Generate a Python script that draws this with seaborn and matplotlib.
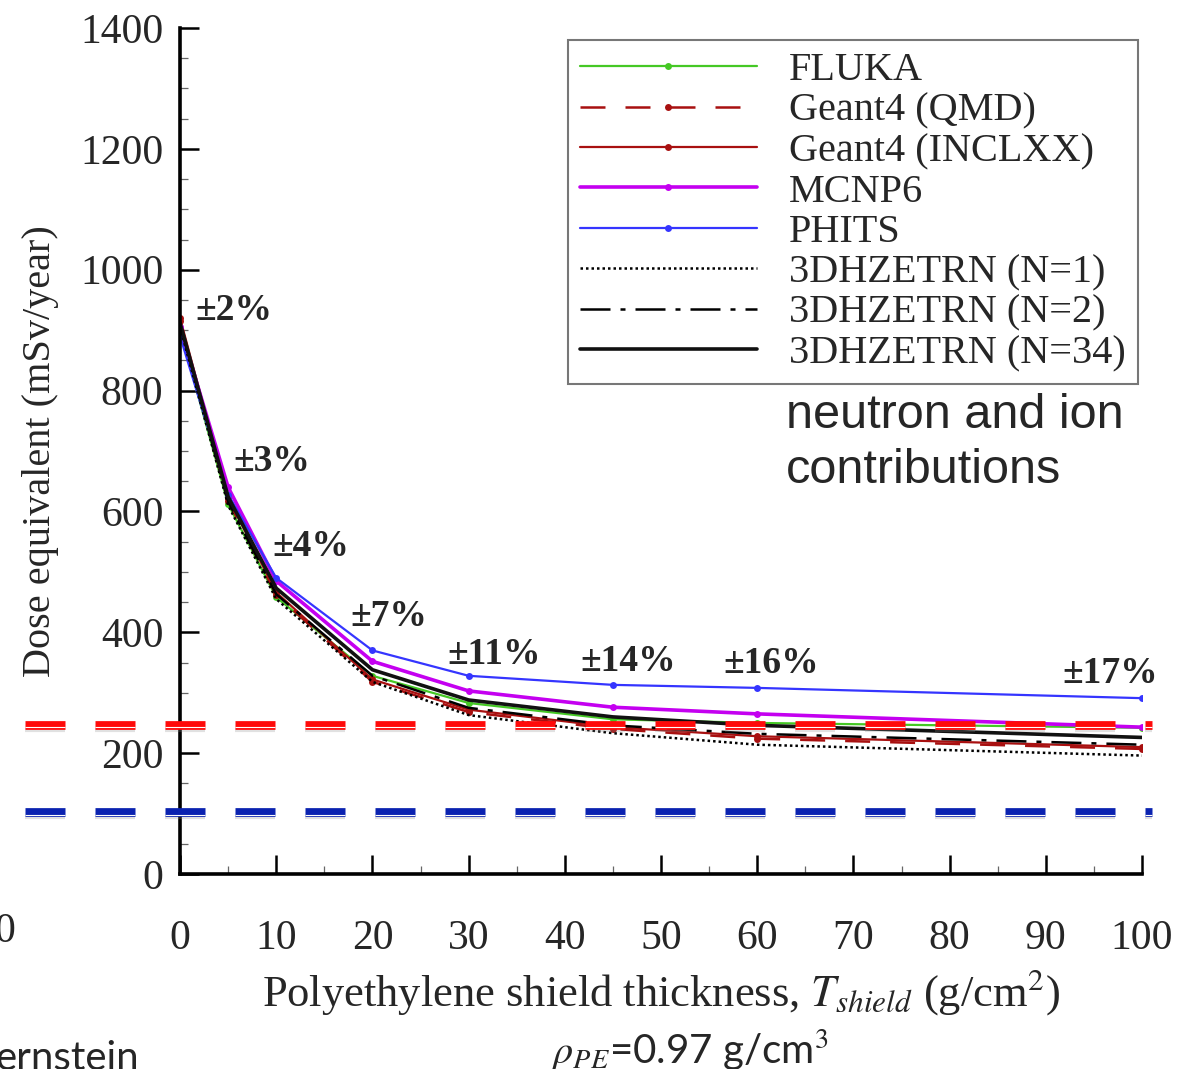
import matplotlib
matplotlib.use("Agg")
import matplotlib.pyplot as plt
import matplotlib.transforms as mtransforms
from matplotlib.ticker import MultipleLocator
import seaborn as sns

sns.set_style("white")
plt.rcParams['font.family'] = ['Liberation Serif', 'DejaVu Serif']
plt.rcParams['mathtext.fontset'] = 'stix'

# polyethylene thickness (g/cm2) and dose equivalent (mSv/year)
thickness = [0, 5, 10, 20, 30, 45, 60, 100]
fluka = [900, 612, 458, 328, 283, 256, 250, 242]
g4_qmd = [915, 618, 462, 318, 268, 240, 224, 207]
g4_inclxx = [920, 622, 466, 322, 272, 243, 228, 210]
mcnp6 = [905, 640, 485, 352, 303, 276, 265, 243]
phits = [890, 628, 490, 370, 328, 313, 308, 291]
hze_n1 = [905, 610, 455, 318, 263, 233, 214, 196]
hze_n2 = [910, 616, 463, 328, 275, 246, 232, 214]
hze_n34 = [912, 624, 473, 338, 288, 260, 246, 226]

# spread labels and where they sit (data coords)
spread_labels = ['±2%', '±3%', '±4%', '±7%', '±11%', '±14%', '±16%', '±17%']
spread_x = [1.6, 5.5, 9.6, 17.7, 27.8, 41.6, 56.5, 91.7]
spread_y = [932, 683, 542, 426, 364, 351, 348, 331]

# reference dose levels drawn over the slide
ref_levels = [247, 102]
ref_colors = ['#ff0a0a', '#0a22b0']

fig = plt.figure(figsize=(12.02, 10.69), dpi=100)
ax = fig.add_axes([0.1498, 0.1824, 0.8003, 0.7914])

series = [
    (fluka, 'FLUKA', '#45c825', '-', 'o', 1.6),
    (g4_qmd, 'Geant4 (QMD)', '#a81010', (0, (10, 8)), 'o', 1.8),
    (g4_inclxx, 'Geant4 (INCLXX)', '#a81010', '-', 'o', 1.6),
    (mcnp6, 'MCNP6', '#c400f0', '-', 'o', 2.6),
    (phits, 'PHITS', '#3535ff', '-', 'o', 1.6),
    (hze_n1, '3DHZETRN (N=1)', 'black', (0, (1, 1.2)), None, 1.8),
    (hze_n2, '3DHZETRN (N=2)', 'black', (0, (12, 4, 2, 4)), None, 1.8),
    (hze_n34, '3DHZETRN (N=34)', '#111111', '-', None, 2.6),
]
for vals, name, col, ls, mk, lw in series:
    sns.lineplot(x=thickness, y=vals, ax=ax, color=col, linestyle=ls,
                 marker=mk, markersize=5, markeredgewidth=0, lw=lw, label=name)

for lbl, xx, yy in zip(spread_labels, spread_x, spread_y):
    ax.text(xx, yy, lbl, fontsize=27, fontweight='bold', ha='left', va='center')

ax.set_xlim(0, 100)
ax.set_ylim(0, 1400)
ax.xaxis.set_major_locator(MultipleLocator(10))
ax.xaxis.set_minor_locator(MultipleLocator(5))
ax.yaxis.set_major_locator(MultipleLocator(200))
ax.yaxis.set_minor_locator(MultipleLocator(50))
ax.tick_params(which='both', bottom=True, left=True, top=False, right=False)
ax.tick_params(which='major', direction='in', length=14, width=1.8, labelsize=30,
               color='black')
ax.tick_params(which='minor', direction='in', length=6, width=0.9, color='#666666')
ax.tick_params(axis='x', which='major', pad=33)
ax.tick_params(axis='y', which='major', pad=12)
for s in ['top', 'right']:
    ax.spines[s].set_visible(False)
for s in ['left', 'bottom']:
    ax.spines[s].set_linewidth(2.6)
    ax.spines[s].set_color('black')

ax.set_xlabel(r"Polyethylene shield thickness, $T_{shield}$ (g/cm$^2$)", fontsize=32, labelpad=6)
ax.set_ylabel("Dose equivalent (mSv/year)", fontsize=29, labelpad=15)

leg = ax.legend(loc='upper right', bbox_to_anchor=(1138 / 1202, 1 - 40 / 1069),
                bbox_transform=fig.transFigure, borderaxespad=0, fontsize=29,
                frameon=True, fancybox=False, edgecolor='#777777', framealpha=1,
                handlelength=4.4, handletextpad=0.8, labelspacing=0.08,
                borderpad=0.3, numpoints=1)
leg.get_frame().set_linewidth(1.5)

ax.text(0.63, 0.568, "neutron and ion\ncontributions", transform=ax.transAxes,
        family=['Liberation Sans'], fontsize=35, ha='left', va='top', linespacing=1.26)

# dashed reference levels overlaid across the slide (dash 40 px, gap 30 px)
dash_pt, gap_pt = 28.8, 21.6
span = [-0.161, 1.01]
base = ax.get_yaxis_transform()
shadow = mtransforms.offset_copy(base, fig=fig, y=-5, units='dots')
inner = mtransforms.offset_copy(base, fig=fig, y=-2.3, units='dots')
for lev, col in zip(ref_levels, ref_colors):
    ax.plot(span, [lev, lev], color='#888888', lw=3, alpha=0.25,
            linestyle=(0, (dash_pt / 3, gap_pt / 3)), clip_on=False, zorder=5,
            transform=shadow)
    ax.plot(span, [lev, lev], color=col, lw=6.3,
            linestyle=(0, (dash_pt / 6.3, gap_pt / 6.3)), clip_on=False, zorder=6,
            transform=base)
    ax.plot(span, [lev, lev], color='white', lw=0.8,
            linestyle=(0, (dash_pt / 0.8, gap_pt / 0.8)), clip_on=False, zorder=7,
            transform=inner)

# pieces of the neighbouring slide content
fig.text(0.004, 1 - 932 / 1069, "0", fontsize=30, ha='center', va='center')
fig.text(-0.004, 1 - 1058 / 1069, "ernstein", family=['Lato', 'DejaVu Sans'],
         fontsize=29, ha='left', va='center')
fig.text(690 / 1202, 1 - 1050 / 1069, r"$\rho_{PE}$=0.97 g/cm$^3$",
         family=['Lato', 'DejaVu Sans'], fontsize=29, ha='center', va='center')

fig.savefig("out.png", dpi=100)
